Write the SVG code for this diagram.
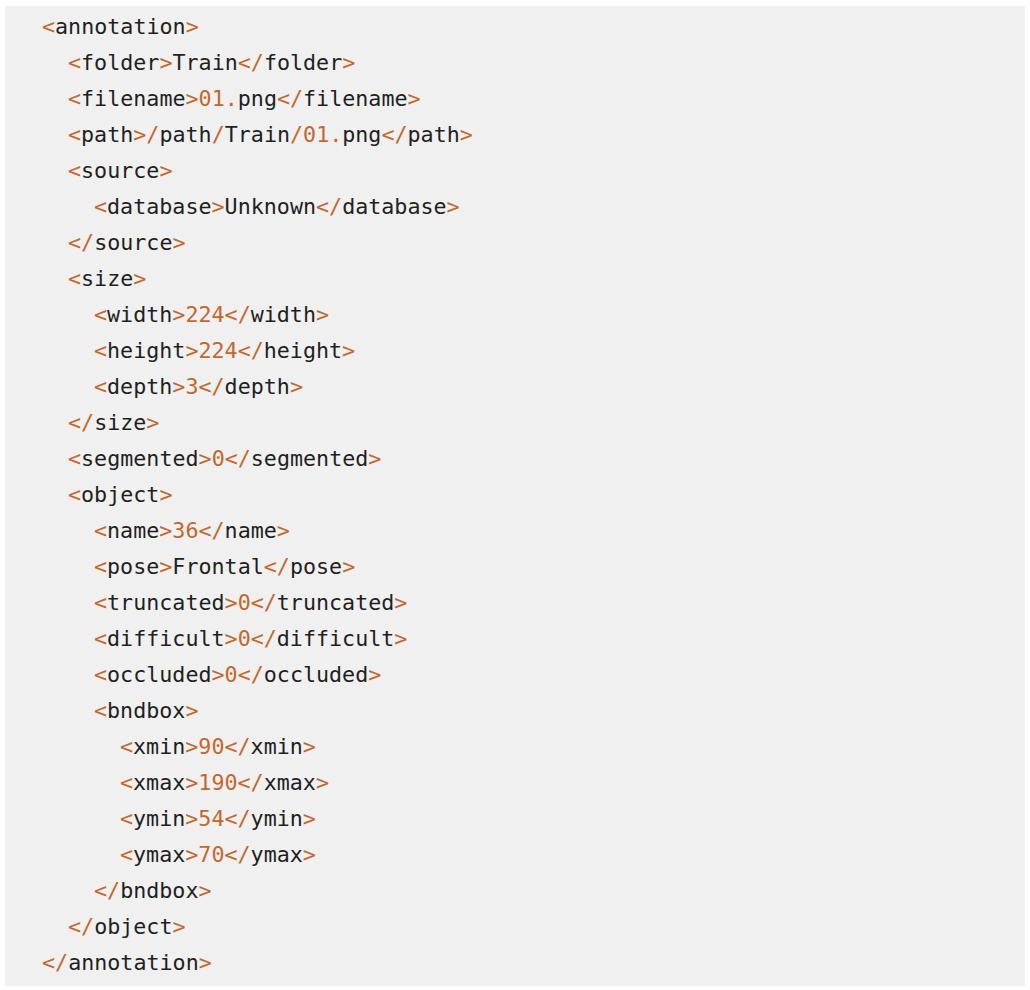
<svg xmlns="http://www.w3.org/2000/svg" width="1030" height="990" viewBox="0 0 1030 990">
<style>
text{font-family:"DejaVu Sans Mono","Liberation Mono",monospace;font-size:21.7px;fill:#1f1f1f;white-space:pre}
.o{fill:#c4672c}
</style>
<rect x="0" y="0" width="1030" height="990" fill="#ffffff"/>
<rect x="5" y="6" width="1020" height="980" fill="#f0f0f0"/>
<g id="code">
<text x="42" y="34"><tspan class="o">&lt;</tspan>annotation<tspan class="o">&gt;</tspan></text>
<text x="68" y="70"><tspan class="o">&lt;</tspan>folder<tspan class="o">&gt;</tspan>Train<tspan class="o">&lt;/</tspan>folder<tspan class="o">&gt;</tspan></text>
<text x="68" y="106"><tspan class="o">&lt;</tspan>filename<tspan class="o">&gt;01.</tspan>png<tspan class="o">&lt;/</tspan>filename<tspan class="o">&gt;</tspan></text>
<text x="68" y="142"><tspan class="o">&lt;</tspan>path<tspan class="o">&gt;/</tspan>path<tspan class="o">/</tspan>Train<tspan class="o">/01.</tspan>png<tspan class="o">&lt;/</tspan>path<tspan class="o">&gt;</tspan></text>
<text x="68" y="178"><tspan class="o">&lt;</tspan>source<tspan class="o">&gt;</tspan></text>
<text x="94" y="214"><tspan class="o">&lt;</tspan>database<tspan class="o">&gt;</tspan>Unknown<tspan class="o">&lt;/</tspan>database<tspan class="o">&gt;</tspan></text>
<text x="68" y="250"><tspan class="o">&lt;/</tspan>source<tspan class="o">&gt;</tspan></text>
<text x="68" y="286"><tspan class="o">&lt;</tspan>size<tspan class="o">&gt;</tspan></text>
<text x="94" y="322"><tspan class="o">&lt;</tspan>width<tspan class="o">&gt;224&lt;/</tspan>width<tspan class="o">&gt;</tspan></text>
<text x="94" y="358"><tspan class="o">&lt;</tspan>height<tspan class="o">&gt;224&lt;/</tspan>height<tspan class="o">&gt;</tspan></text>
<text x="94" y="394"><tspan class="o">&lt;</tspan>depth<tspan class="o">&gt;3&lt;/</tspan>depth<tspan class="o">&gt;</tspan></text>
<text x="68" y="430"><tspan class="o">&lt;/</tspan>size<tspan class="o">&gt;</tspan></text>
<text x="68" y="466"><tspan class="o">&lt;</tspan>segmented<tspan class="o">&gt;0&lt;/</tspan>segmented<tspan class="o">&gt;</tspan></text>
<text x="68" y="502"><tspan class="o">&lt;</tspan>object<tspan class="o">&gt;</tspan></text>
<text x="94" y="538"><tspan class="o">&lt;</tspan>name<tspan class="o">&gt;36&lt;/</tspan>name<tspan class="o">&gt;</tspan></text>
<text x="94" y="574"><tspan class="o">&lt;</tspan>pose<tspan class="o">&gt;</tspan>Frontal<tspan class="o">&lt;/</tspan>pose<tspan class="o">&gt;</tspan></text>
<text x="94" y="610"><tspan class="o">&lt;</tspan>truncated<tspan class="o">&gt;0&lt;/</tspan>truncated<tspan class="o">&gt;</tspan></text>
<text x="94" y="646"><tspan class="o">&lt;</tspan>difficult<tspan class="o">&gt;0&lt;/</tspan>difficult<tspan class="o">&gt;</tspan></text>
<text x="94" y="682"><tspan class="o">&lt;</tspan>occluded<tspan class="o">&gt;0&lt;/</tspan>occluded<tspan class="o">&gt;</tspan></text>
<text x="94" y="718"><tspan class="o">&lt;</tspan>bndbox<tspan class="o">&gt;</tspan></text>
<text x="120" y="754"><tspan class="o">&lt;</tspan>xmin<tspan class="o">&gt;90&lt;/</tspan>xmin<tspan class="o">&gt;</tspan></text>
<text x="120" y="790"><tspan class="o">&lt;</tspan>xmax<tspan class="o">&gt;190&lt;/</tspan>xmax<tspan class="o">&gt;</tspan></text>
<text x="120" y="826"><tspan class="o">&lt;</tspan>ymin<tspan class="o">&gt;54&lt;/</tspan>ymin<tspan class="o">&gt;</tspan></text>
<text x="120" y="862"><tspan class="o">&lt;</tspan>ymax<tspan class="o">&gt;70&lt;/</tspan>ymax<tspan class="o">&gt;</tspan></text>
<text x="94" y="898"><tspan class="o">&lt;/</tspan>bndbox<tspan class="o">&gt;</tspan></text>
<text x="68" y="934"><tspan class="o">&lt;/</tspan>object<tspan class="o">&gt;</tspan></text>
<text x="42" y="970"><tspan class="o">&lt;/</tspan>annotation<tspan class="o">&gt;</tspan></text>
</g>
</svg>
